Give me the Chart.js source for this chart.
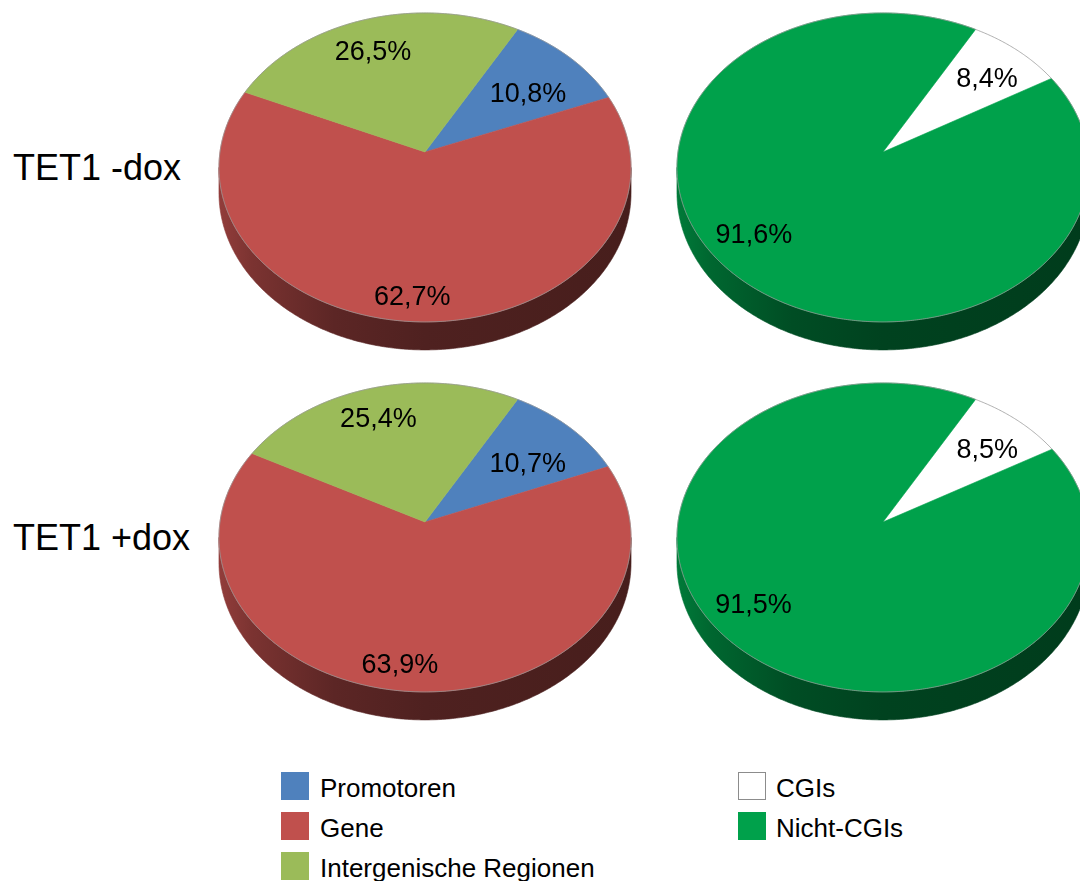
<!DOCTYPE html>
<html lang="de">
<head>
<meta charset="utf-8">
<title>TET1 Bindungsstellen</title>
<script src="https://cdn.jsdelivr.net/npm/chart.js@4"></script>
<style>
  html, body { margin: 0; padding: 0; background: #ffffff; }
  #stage { position: relative; width: 1080px; height: 881px; overflow: hidden; background: #ffffff;
           font-family: "Liberation Sans", Arial, sans-serif; color: #000; }
  canvas.pie { position: absolute; }
  .cond { position: absolute; left: 13px; font-size: 36px; line-height: 36px; white-space: nowrap; }
  .leg-box { position: absolute; width: 28px; height: 28px; box-sizing: border-box; }
  .leg-text { position: absolute; font-size: 26px; line-height: 26px; white-space: nowrap; }
</style>
</head>
<body>
<div id="stage">
  <canvas class="pie" id="pieRegMinus" width="440" height="410" style="left:205px; top:-53px"></canvas>
  <canvas class="pie" id="pieCgiMinus" width="440" height="410" style="left:663px; top:-53px"></canvas>
  <canvas class="pie" id="pieRegPlus"  width="440" height="410" style="left:205px; top:317px"></canvas>
  <canvas class="pie" id="pieCgiPlus"  width="440" height="410" style="left:663px; top:317px"></canvas>
</div>
<script>
// Conditions (row titles)
const conditionLabels = ['TET1 -dox', 'TET1 +dox'];

// Genomic regions (left column), percentages
const regionLabels = ['Promotoren', 'Gene', 'Intergenische Regionen'];
const regionColors = ['#4f81bd', '#c0504d', '#9bbb59'];
const regionMinusDox = [10.8, 62.7, 26.5];
const regionPlusDox  = [10.7, 63.9, 25.4];

// CpG islands (right column), percentages
const cgiLabels = ['CGIs', 'Nicht-CGIs'];
const cgiColors = ['#ffffff', '#00a14b'];
const cgiMinusDox = [8.4, 91.6];
const cgiPlusDox  = [8.5, 91.5];

const FONT = '"Liberation Sans", Arial, sans-serif';

function shade(hex, f) {
  const n = parseInt(hex.slice(1), 16);
  const r = Math.round(((n >> 16) & 255) * f);
  const g = Math.round(((n >> 8) & 255) * f);
  const b = Math.round((n & 255) * f);
  return `rgb(${r},${g},${b})`;
}

function formatPct(v) {
  return v.toFixed(1).replace('.', ',') + '%';
}

// Draws the pie as a tilted, extruded disc in perspective, using the arc
// angles and radius that Chart.js computed for each slice.
const pie3d = {
  id: 'pie3d',
  beforeDatasetsDraw(chart, args, opts) {
    const ctx = chart.ctx;
    const arcs = chart.getDatasetMeta(0).data;
    const ds = chart.data.datasets[0];
    if (!arcs.length) return false;
    const cx = arcs[0].x, cy = arcs[0].y, R = arcs[0].outerRadius;
    const a = R, b = R * opts.tilt, c = R * opts.depth, k = opts.persp;

    // angle th (Chart.js, clockwise from 3 o'clock), radius fraction r, d = 0 top / 1 bottom
    const proj = (th, r, d) => {
      const x = r * Math.cos(th), z = -r * Math.sin(th), w = 1 + k * z;
      return [cx + a * x / w, cy + (-b * z + c * d) / w];
    };
    const arcPts = (from, to, d) => {
      const n = Math.max(2, Math.ceil(Math.abs(to - from) / (Math.PI / 360)));
      const pts = [];
      for (let i = 0; i <= n; i++) pts.push(proj(from + (to - from) * i / n, 1, d));
      return pts;
    };

    ctx.save();

    // side walls on the near half of the disc
    const thMin = Math.asin(k), thMax = Math.PI - Math.asin(k);
    const halfW = a / Math.sqrt(1 - k * k);
    arcs.forEach((arc, i) => {
      const base = ds.backgroundColor[i];
      const grad = ctx.createLinearGradient(cx - halfW, 0, cx + halfW, 0);
      grad.addColorStop(0, shade(base, 0.76));
      grad.addColorStop(0.08, shade(base, 0.64));
      grad.addColorStop(0.28, shade(base, 0.48));
      grad.addColorStop(0.5, shade(base, 0.41));
      grad.addColorStop(1, shade(base, 0.37));
      for (let m = -1; m <= 1; m++) {
        const lo = Math.max(arc.startAngle, thMin + 2 * Math.PI * m);
        const hi = Math.min(arc.endAngle, thMax + 2 * Math.PI * m);
        if (hi <= lo) continue;
        const top = arcPts(lo, hi, 0);
        const bot = arcPts(hi, lo, 1);
        ctx.beginPath();
        top.concat(bot).forEach((p, j) => j ? ctx.lineTo(p[0], p[1]) : ctx.moveTo(p[0], p[1]));
        ctx.closePath();
        ctx.fillStyle = grad;
        ctx.fill();
        ctx.strokeStyle = grad;
        ctx.lineWidth = 0.6;
        ctx.stroke();
      }
    });

    // top faces
    arcs.forEach((arc, i) => {
      const pts = arcPts(arc.startAngle, arc.endAngle, 0);
      ctx.beginPath();
      ctx.moveTo(cx, cy);
      pts.forEach(p => ctx.lineTo(p[0], p[1]));
      ctx.closePath();
      ctx.fillStyle = ds.backgroundColor[i];
      ctx.fill();
      ctx.strokeStyle = ds.backgroundColor[i];
      ctx.lineWidth = 0.6;
      ctx.lineJoin = 'round';
      ctx.stroke();
    });

    // thin rim around the top face
    const rim = arcPts(0, 2 * Math.PI, 0);
    ctx.beginPath();
    rim.forEach((p, j) => j ? ctx.lineTo(p[0], p[1]) : ctx.moveTo(p[0], p[1]));
    ctx.closePath();
    ctx.strokeStyle = 'rgba(150,150,150,0.75)';
    ctx.lineWidth = 1;
    ctx.stroke();

    // value labels, placed inside each slice
    ctx.fillStyle = '#000';
    ctx.font = `27px ${FONT}`;
    ctx.textAlign = 'center';
    ctx.textBaseline = 'middle';
    arcs.forEach((arc, i) => {
      const mid = (arc.startAngle + arc.endAngle) / 2 + opts.labelTurn[i] * Math.PI / 180;
      const p = proj(mid, opts.labelRadius[i], 0);
      ctx.fillText(formatPct(ds.data[i]), p[0], p[1]);
    });

    ctx.restore();
    return false;
  }
};

function makePie(id, labels, values, colors, labelRadius, labelTurn) {
  return new Chart(document.getElementById(id), {
    type: 'pie',
    data: {
      labels: labels,
      datasets: [{ data: values, backgroundColor: colors, borderWidth: 0 }]
    },
    options: {
      responsive: false,
      animation: false,
      devicePixelRatio: 1,
      rotation: 29.4,
      layout: { padding: 0 },
      events: [],
      plugins: {
        legend: { display: false },
        tooltip: { enabled: false },
        pie3d: { tilt: 0.746, depth: 0.123, persp: 0.1, labelRadius: labelRadius, labelTurn: labelTurn }
      }
    },
    plugins: [pie3d]
  });
}

makePie('pieRegMinus', regionLabels, regionMinusDox, regionColors, [0.65, 0.87, 0.75], [4.6, 2.6, -2.9]);
makePie('pieRegPlus',  regionLabels, regionPlusDox,  regionColors, [0.65, 0.865, 0.755], [4.6, 4.5, -2.5]);
makePie('pieCgiMinus', cgiLabels, cgiMinusDox, cgiColors, [0.726, 0.79], [2.6, 4.6]);
makePie('pieCgiPlus',  cgiLabels, cgiPlusDox,  cgiColors, [0.726, 0.79], [2.6, 4.6]);

// Row titles and legend
const stage = document.getElementById('stage');
function addEl(cls, text, style) {
  const el = document.createElement('div');
  el.className = cls;
  if (text) el.textContent = text;
  Object.assign(el.style, style);
  stage.appendChild(el);
  return el;
}
addEl('cond', conditionLabels[0], { top: '150px' });
addEl('cond', conditionLabels[1], { top: '520px' });

regionLabels.forEach((lab, i) => {
  addEl('leg-box', '', { left: '281px', top: (772 + 40 * i) + 'px', background: regionColors[i] });
  addEl('leg-text', lab, { left: '320px', top: (775 + 40 * i) + 'px' });
});
cgiLabels.forEach((lab, i) => {
  const box = { left: '738px', top: (772 + 40 * i) + 'px', background: cgiColors[i] };
  if (cgiColors[i] === '#ffffff') box.border = '1.5px solid #8c8c8c';
  addEl('leg-box', '', box);
  addEl('leg-text', lab, { left: '776px', top: (775 + 40 * i) + 'px' });
});
</script>
</body>
</html>
